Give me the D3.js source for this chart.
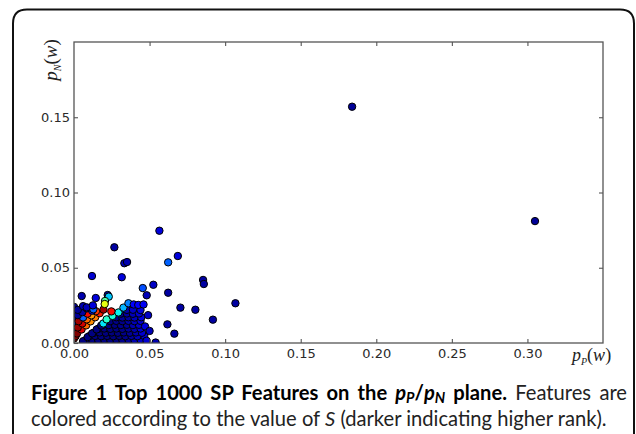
<!DOCTYPE html>
<html><head><meta charset="utf-8">
<script src="https://cdn.jsdelivr.net/npm/d3@7"></script>
<style>
html,body{margin:0;padding:0;background:#fff;}
svg{display:block;}
</style></head>
<body>
<svg id="c" width="636" height="434"></svg>
<script>
// ---------- data: [p_P(w), p_N(w), S colour value 0..1] ----------
const xTicks = [0, 0.05, 0.10, 0.15, 0.20, 0.25, 0.30];
const yTicks = [0, 0.05, 0.10, 0.15];
const xTickLabels = ["0.00","0.05","0.10","0.15","0.20","0.25","0.30"];
const yTickLabels = ["0.00","0.05","0.10","0.15"];

const clusterLow = [
[0.006,0,0],[0.010,0,0],[0.014,0,0],[0.018,0,0],[0.022,0,0],[0.026,0,0],[0.030,0,0.01],[0.034,0,0.02],[0.038,0,0.03],[0.042,0,0.05],
[0.008,0.002,0],[0.012,0.0022,0],[0.016,0.002,0],[0.020,0.0022,0],[0.024,0.002,0],[0.028,0.0022,0],[0.032,0.002,0.01],[0.036,0.0022,0.02],[0.040,0.002,0.04],[0.044,0.0022,0.06],
[0.010,0.0045,0],[0.014,0.0047,0],[0.018,0.0045,0],[0.022,0.0047,0],[0.026,0.0045,0],[0.030,0.0047,0],[0.034,0.0045,0.01],[0.038,0.0047,0.03],[0.042,0.0045,0.05],[0.0465,0.0047,0.08],
[0.013,0.0068,0],[0.017,0.007,0],[0.021,0.0068,0],[0.025,0.007,0],[0.029,0.0068,0],[0.033,0.007,0.01],[0.037,0.0068,0.02],[0.041,0.007,0.04],[0.045,0.0068,0.07],
[0.016,0.0094,0],[0.020,0.0096,0],[0.024,0.0094,0],[0.028,0.0096,0],[0.032,0.0094,0.01],[0.036,0.0096,0.02],[0.040,0.0094,0.04],[0.044,0.0096,0.07],
[0.019,0.0121,0],[0.023,0.0119,0],[0.027,0.0121,0],[0.031,0.0119,0.01],[0.035,0.0121,0.02],[0.039,0.0119,0.04],[0.043,0.0121,0.06],
[0.024,0.0145,0],[0.028,0.0147,0.01],[0.032,0.0145,0.01],[0.036,0.0147,0.03],[0.040,0.0145,0.05],[0.044,0.0147,0.07],
[0.028,0.0171,0.01],[0.032,0.0169,0.02],[0.036,0.0171,0.03],[0.040,0.0169,0.05],[0.0445,0.0171,0.08],
[0.031,0.0195,0.02],[0.035,0.0196,0.03],[0.039,0.0194,0.05],[0.043,0.0196,0.07],
[0.035,0.022,0.04],[0.039,0.0221,0.06],[0.044,0.0219,0.08],
[0.006,0.0012,0],[0.009,0.0039,0],[0.012,0.0064,0],[0.015,0.009,0],[0.018,0.0116,0],
[0.048,0.0015,0.07],[0.047,0.011,0.08],[0.049,0.0185,0.06],[0.050,0.008,0.05]
];

const clusterHigh = [
[0,0.003,1.0],[0,0.0065,0.98],[0,0.01,0.22],[0,0.0135,0.2],[0,0.017,0.03],[0,0.0205,0.02],[0,0.024,0.02],
[0.001,0.0045,1.0],[0.002,0.0063,1.0],[0.005,0.009,0.92],[0.008,0.0117,0.8],[0.011,0.0144,0.76],[0.014,0.0171,0.78],[0.017,0.0198,0.88],[0.0195,0.0222,0.97],
[0.0025,0.0103,0.98],[0.0055,0.013,0.93],[0.0085,0.0157,0.8],[0.0115,0.0184,0.75],[0.0145,0.0211,0.85],
[0.003,0.0145,0.97],[0.006,0.017,0.22],[0.009,0.0195,0.9],[0.012,0.0215,0.15],
[0.0025,0.0185,0.02],[0.0055,0.0205,0.03],[0.0085,0.023,0.05],[0.0128,0.0224,0.22],
[0.0025,0.022,0.02],[0.006,0.0245,0.04],[0.0084,0.0237,0.05],[0.0125,0.025,0.08]
];

const accents = [
[0.0194,0.013,0.35],[0.0216,0.0157,0.4],[0.0255,0.018,0.38],[0.0294,0.0203,0.36],[0.0327,0.0235,0.3],[0.036,0.0264,0.25],
[0.0395,0.0256,0.12],[0.0425,0.0253,0.11],[0.046,0.0256,0.1],
[0.0247,0.021,0.9],
[0.0223,0.0319,0.02],[0.023,0.0308,0.32],[0.0205,0.0279,0.45],[0.0203,0.0259,0.63]
];

const spread = [
[0.0267,0.0636,0.03],[0.0333,0.053,0.05],[0.0351,0.0538,0.04],[0.0119,0.0445,0.07],[0.0316,0.0437,0.08],
[0.0051,0.0312,0.04],[0.0144,0.0299,0.08],[0.0565,0.0746,0.08],[0.0687,0.0578,0.08],[0.0623,0.0536,0.22],
[0.0854,0.0419,0.03],[0.0859,0.0392,0.03],[0.0525,0.0387,0.06],[0.0455,0.0365,0.2],[0.0481,0.0317,0.05],
[0.0623,0.0334,0.03],[0.1068,0.0264,0.03],[0.0704,0.0235,0.03],[0.0803,0.0221,0.03],[0.0919,0.0155,0.03],
[0.0618,0.0124,0.03],[0.0664,0.0062,0.03],[0.054,0.0003,0.04]
];

const outliers = [[0.184,0.157,0.02],[0.305,0.081,0.02]];

// ---------- layout ----------
const svg = d3.select("#c");
const L = 74, R = 603, T = 42, B = 343;
const x = d3.scaleLinear().domain([0, 0.35]).range([L, R]);
const y = d3.scaleLinear().domain([0, 0.20]).range([B, T]);

// matplotlib "jet" colormap
const jr = d3.scaleLinear([0,0.35,0.66,0.89,1],[0,0,1,1,0.5]).clamp(true);
const jg = d3.scaleLinear([0,0.125,0.375,0.64,0.91,1],[0,0,1,1,0,0]).clamp(true);
const jb = d3.scaleLinear([0,0.11,0.34,0.65,1],[0.5,1,1,0,0]).clamp(true);
const jet = v => d3.rgb(jr(v)*255, jg(v)*255, jb(v)*255).toString();

// card border
svg.append("path")
  .attr("d", `M13,440 L13,${9.5+14} Q13,9.5 ${13+14},9.5 L${634-14},9.5 Q634,9.5 634,${9.5+14} L634,440`)
  .attr("fill","none").attr("stroke","#111").attr("stroke-width",2);

svg.append("defs").append("clipPath").attr("id","plotclip")
  .append("rect").attr("x",L).attr("y",T).attr("width",R-L).attr("height",B-T);

// points
const gp = svg.append("g").attr("clip-path","url(#plotclip)");
[clusterLow, clusterHigh, accents, spread, outliers].forEach(arr => {
  gp.selectAll(null).data(arr).enter().append("circle")
    .attr("cx", d => x(d[0])).attr("cy", d => y(d[1]))
    .attr("r", 3.7)
    .attr("fill", d => jet(d[2]))
    .attr("stroke", "#000").attr("stroke-width", 1);
});

// axes (inward ticks on all four sides)
const fontTick = "'DejaVu Sans', sans-serif";
const axB = d3.axisBottom(x).tickValues(xTicks).tickFormat((d,i)=>xTickLabels[i]).tickSizeInner(-4).tickSizeOuter(0).tickPadding(6);
const axT = d3.axisTop(x).tickValues(xTicks.slice(1)).tickFormat("").tickSizeInner(-4).tickSizeOuter(0);
const axL = d3.axisLeft(y).tickValues(yTicks).tickFormat((d,i)=>yTickLabels[i]).tickSizeInner(-4).tickSizeOuter(0).tickPadding(4);
const axRt = d3.axisRight(y).tickValues(yTicks.slice(1)).tickFormat("").tickSizeInner(-4).tickSizeOuter(0);

function styleAxis(g){
  g.select(".domain").remove();
  g.selectAll("line").attr("stroke","#555").attr("stroke-width",1.1);
  g.selectAll("text").attr("fill","#2a2a2a").style("font-family",fontTick).style("font-size","13px");
}
svg.append("g").attr("transform",`translate(0,${B})`).call(axB).call(styleAxis);
svg.append("g").attr("transform",`translate(0,${T})`).call(axT).call(styleAxis);
svg.append("g").attr("transform",`translate(${L},0)`).call(axL).call(styleAxis);
svg.append("g").attr("transform",`translate(${R},0)`).call(axRt).call(styleAxis);

svg.append("rect").attr("x",L).attr("y",T).attr("width",R-L).attr("height",B-T)
  .attr("fill","none").attr("stroke","#555").attr("stroke-width",1.3);

// axis labels
const serif = "'Liberation Serif','DejaVu Serif',serif";
const yl = svg.append("text").attr("transform","translate(57,60) rotate(-90)")
  .attr("text-anchor","middle").style("font-family",serif).style("font-size","19px").attr("fill","#222");
yl.append("tspan").style("font-style","italic").text("p");
yl.append("tspan").style("font-style","italic").style("font-size","10px").attr("dy",4).text("N");
yl.append("tspan").attr("dy",-4).text("(");
yl.append("tspan").style("font-style","italic").text("w");
yl.append("tspan").text(")");

const xl = svg.append("text").attr("x",572).attr("y",361)
  .style("font-family",serif).style("font-size","18px").attr("fill","#222");
xl.append("tspan").style("font-style","italic").text("p");
xl.append("tspan").style("font-style","italic").style("font-size","10px").attr("dy",4).text("P");
xl.append("tspan").attr("dy",-4).text("(");
xl.append("tspan").style("font-style","italic").text("w");
xl.append("tspan").text(")");

// caption (line 1 justified, line 2 ragged)
const capFont = "Lato, 'Open Sans', sans-serif";
const c1 = svg.append("text").attr("x",31).attr("y",400).style("font-family",capFont).attr("fill","#000");
const b = () => c1.append("tspan").style("font-weight","bold");
b().text("Figure 1 Top 1000 SP Features on the ");
b().style("font-style","italic").text("p");
b().attr("class","sub").style("font-style","italic").attr("dy",3).text("P");
b().attr("dy",-3).text("/");
b().style("font-style","italic").text("p");
b().attr("class","sub").style("font-style","italic").attr("dy",3).text("N");
b().attr("dy",-3).text(" plane.");
c1.append("tspan").attr("fill","#222").text(" Features are");

const c2 = svg.append("text").attr("x",31).attr("y",426).style("font-family",capFont).attr("fill","#222");
c2.append("tspan").text("colored according to the value of ");
c2.append("tspan").style("font-style","italic").text("S");
c2.append("tspan").text(" (darker indicating higher rank).");

c2.style("font-size","16px");
const fs = 16 * 576 / c2.node().getComputedTextLength();
c2.style("font-size", fs+"px");
c1.style("font-size", fs+"px");
c1.selectAll(".sub").style("font-size",(fs*0.72)+"px");
const w1 = c1.node().getComputedTextLength();
const nSpaces = (c1.text().match(/ /g) || []).length;
c1.style("word-spacing", ((596 - w1) / nSpaces) + "px");
</script>
</body></html>
